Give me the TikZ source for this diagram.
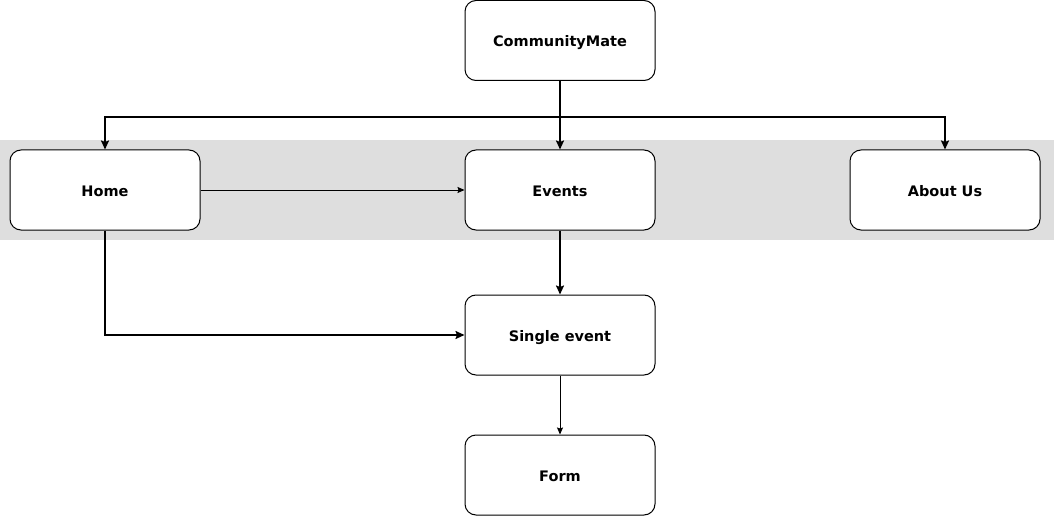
\documentclass[tikz,border=0pt]{standalone}
\usepackage{fontspec}
\setmainfont{DejaVu Sans}
\usetikzlibrary{arrows.meta}
\definecolor{band}{HTML}{DEDEDE}
\tikzset{
  page/.style={x=1pt,y=-1pt},
  pagebox/.style={draw=black, line width=1pt, fill=white, rounded corners=11pt,
    minimum width=190pt, minimum height=80pt, inner sep=0pt,
    text height=12.5pt, text depth=0pt,
    font=\fontsize{14.5}{17}\selectfont\bfseries},
  thickarrow/.style={line width=1.8pt, -{Stealth[length=9pt,width=8pt,inset=1.5pt]}},
  thinarrow/.style={line width=0.9pt, -{Stealth[length=7pt,width=6pt,inset=1pt]}},
}
\begin{document}
\begin{tikzpicture}[page]
\useasboundingbox (0,0) rectangle (1055,516);
\fill[band] (0,140) rectangle (1054,240);
\node[pagebox] (cm) at (560,40.5) {CommunityMate};
\node[pagebox] (home) at (105,190) {Home};
\node[pagebox] (events) at (560,190) {Events};
\node[pagebox] (about) at (945,190) {About Us};
\node[pagebox] (single) at (560,335) {Single event};
\node[pagebox] (form) at (560,475) {Form};
\coordinate (split) at (560,117);
\draw[thickarrow] (cm.south) -- (events.north);
\draw[thickarrow] (cm.south) |- (split) -| (home.north);
\draw[thickarrow] (cm.south) |- (split) -| (about.north);
\draw[thinarrow] (home.east) -- (events.west);
\draw[thickarrow] (events.south) -- (single.north);
\draw[thickarrow] (home.south) |- (single.west);
\draw[thinarrow] (single.south) -- (form.north);
\end{tikzpicture}
\end{document}
